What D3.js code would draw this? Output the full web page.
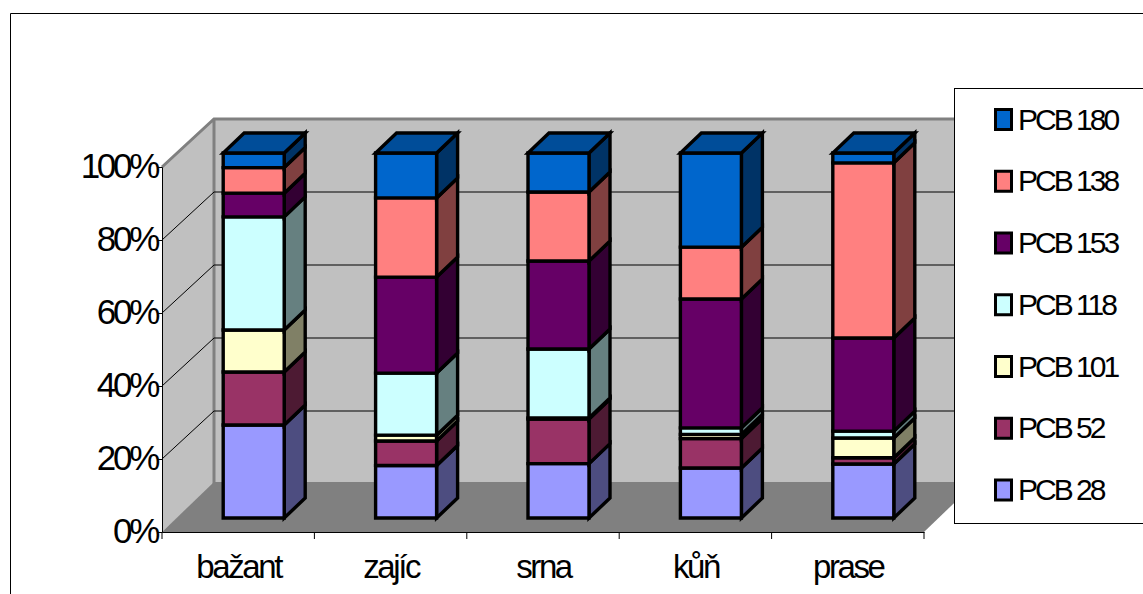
<!DOCTYPE html>
<html>
<head>
<meta charset="utf-8">
<script src="https://cdn.jsdelivr.net/npm/d3@7/dist/d3.min.js"></script>
<style>
html,body{margin:0;padding:0;background:#fff;overflow:hidden}
text{font-family:"Liberation Sans",Arial,sans-serif;fill:#000}
</style>
</head>
<body>
<svg id="chart" width="1143" height="594"></svg>
<script>
const categories = ["bažant", "zajíc", "srna", "kůň", "prase"];
const seriesNames = ["PCB 28", "PCB 52", "PCB 101", "PCB 118", "PCB 153", "PCB 138", "PCB 180"];
const seriesColors = ["#9999ff", "#993366", "#ffffcc", "#ccffff", "#660066", "#ff8080", "#0066cc"];
const pcb28 = [25.5, 14.4, 14.9, 13.7, 14.8];
const pcb52 = [14.5, 6.7, 12.2, 8.1, 1.7];
const pcb101 = [11.5, 1.6, 0.3, 1.1, 5.4];
const pcb118 = [31.0, 17.0, 18.9, 1.8, 1.9];
const pcb153 = [6.5, 26.3, 24.1, 35.3, 25.5];
const pcb138 = [7.0, 21.7, 18.9, 14.2, 48.0];
const pcb180 = [4.0, 12.3, 10.7, 25.8, 2.7];
const seriesValues = [pcb28, pcb52, pcb101, pcb118, pcb153, pcb138, pcb180];
const percentTicks = [0, 20, 40, 60, 80, 100];

const svg = d3.select("#chart");

// Plot box: front edge of the floor, plus the shift to the back wall.
const front = {left: 162, right: 924, bottom: 532, top: 167};
const wallShift = {x: 52, y: -48};
const floorShiftY = -50;
const barDepth = {x: 21, y: -20};
const barOffset = {x: 15.5, y: -14};

const x = d3.scaleBand().domain(categories).range([front.left, front.right]).paddingInner(0).paddingOuter(0);
const y = d3.scaleLinear().domain([0, 100]).range([front.bottom, front.top]);
const barWidth = 61;

const poly = pts => pts.map(p => p.join(",")).join(" ");

// Outer chart frame, open at the right and bottom of the page.
svg.append("path").attr("d", "M10.5,594V13.5H1143").attr("fill", "none").attr("stroke", "#000").attr("stroke-width", 1);

// Side wall, back wall and floor.
const sx = wallShift.x, sy = wallShift.y;
svg.append("polygon").attr("fill", "#c0c0c0")
  .attr("points", poly([[front.left, front.top], [front.left + sx, front.top + sy], [front.left + sx, front.bottom + sy], [front.left, front.bottom]]));
svg.append("polygon").attr("fill", "#c0c0c0")
  .attr("points", poly([[front.left + sx, front.top + sy], [front.right + sx, front.top + sy], [front.right + sx, front.bottom + sy], [front.left + sx, front.bottom + sy]]));

// Wall edges.
svg.append("path").attr("fill", "none").attr("stroke", "#808080").attr("stroke-width", 3)
  .attr("d", `M${front.left},${front.top}L${front.left + sx},${front.top + sy}H${front.right + sx}M${front.left + sx},${front.top + sy}V${front.bottom + sy}`);

svg.append("polygon").attr("fill", "#808080")
  .attr("points", poly([[front.left, front.bottom], [front.left + sx, front.bottom + floorShiftY], [front.right + sx, front.bottom + floorShiftY], [front.right, front.bottom]]));

// Gridlines run along the side wall and across the back wall.
percentTicks.slice(1, -1).forEach(t => {
  svg.append("path").attr("fill", "none").attr("stroke", "#000").attr("stroke-width", 1)
    .attr("d", `M${front.left},${y(t)}L${front.left + sx},${y(t) + sy}H${front.right + sx}`);
});

// Stacked columns, bottom segment first so that upper caps sit on top.
const stackData = categories.map((c, i) => {
  let acc = 0;
  return seriesNames.map((s, k) => {
    const seg = {cat: c, color: seriesColors[k], y0: acc, y1: acc + seriesValues[k][i]};
    acc = seg.y1;
    return seg;
  });
});

const shade = (c, f) => {
  const q = d3.rgb(c);
  return d3.rgb(q.r * f, q.g * f, q.b * f).formatHex();
};

const bars = svg.append("g").attr("stroke", "#000").attr("stroke-width", 3.4).attr("stroke-linejoin", "miter");
stackData.forEach(stack => {
  const col = bars.append("g");
  stack.forEach((seg, k) => {
    const xl = x(seg.cat) + barOffset.x + (x.bandwidth() - barWidth - 2 * barOffset.x) / 2 + barOffset.x;
    const xr = xl + barWidth;
    const yb = y(seg.y0) + barOffset.y;
    const yt = y(seg.y1) + barOffset.y;
    const dx = barDepth.x, dy = barDepth.y;
    col.append("polygon").attr("fill", shade(seg.color, 0.5))
      .attr("points", poly([[xr, yb], [xr + dx, yb + dy], [xr + dx, yt + dy], [xr, yt]]));
    col.append("polygon").attr("fill", seg.color)
      .attr("points", poly([[xl, yb], [xr, yb], [xr, yt], [xl, yt]]));
    if (k === stack.length - 1) {
      col.append("polygon").attr("fill", shade(seg.color, 0.75))
        .attr("points", poly([[xl, yt], [xr, yt], [xr + dx, yt + dy], [xl + dx, yt + dy]]));
    }
  });
});

// Value axis along the front of the side wall.
const yAxis = d3.axisLeft(y).tickValues(percentTicks).tickFormat(d => d + "%").tickSize(4).tickPadding(0);
const gy = svg.append("g").attr("transform", `translate(${front.left},0)`).call(yAxis);
gy.select(".domain").attr("stroke", "#000").attr("stroke-width", 1);
gy.selectAll("text").attr("font-size", 35).attr("letter-spacing", -3.3).attr("dy", 10).attr("x", -5);

// Category axis along the front of the floor.
const xAxis = d3.axisBottom(x).tickSize(0).tickPadding(0);
const gx = svg.append("g").attr("transform", `translate(0,${front.bottom})`).call(xAxis);
gx.select(".domain").attr("stroke", "#000").attr("stroke-width", 1);
gx.selectAll("text").attr("font-size", 33).attr("letter-spacing", -2.4).attr("y", 46).attr("dy", 0).attr("x", 0.5);
d3.range(categories.length + 1).forEach(i => {
  const tx = front.left + i * x.bandwidth();
  gx.append("line").attr("x1", tx).attr("x2", tx).attr("y1", 0).attr("y2", 7).attr("stroke", "#000");
});

// Legend box, running past the right edge of the page.
const legend = svg.append("g");
legend.append("rect").attr("x", 954.5).attr("y", 88.5).attr("width", 300).attr("height", 435)
  .attr("fill", "#fff").attr("stroke", "#000").attr("stroke-width", 1);
const legendY = d3.scalePoint().domain(seriesNames.slice().reverse()).range([119.5, 490]);
seriesNames.forEach((name, k) => {
  const cy = legendY(name);
  legend.append("rect").attr("x", 995.5).attr("y", cy - 10).attr("width", 16).attr("height", 20)
    .attr("fill", seriesColors[k]).attr("stroke", "#000").attr("stroke-width", 3);
  legend.append("text").attr("x", 1018).attr("y", cy + 10).attr("font-size", 30).attr("letter-spacing", -3).text(name);
});
</script>
</body>
</html>
